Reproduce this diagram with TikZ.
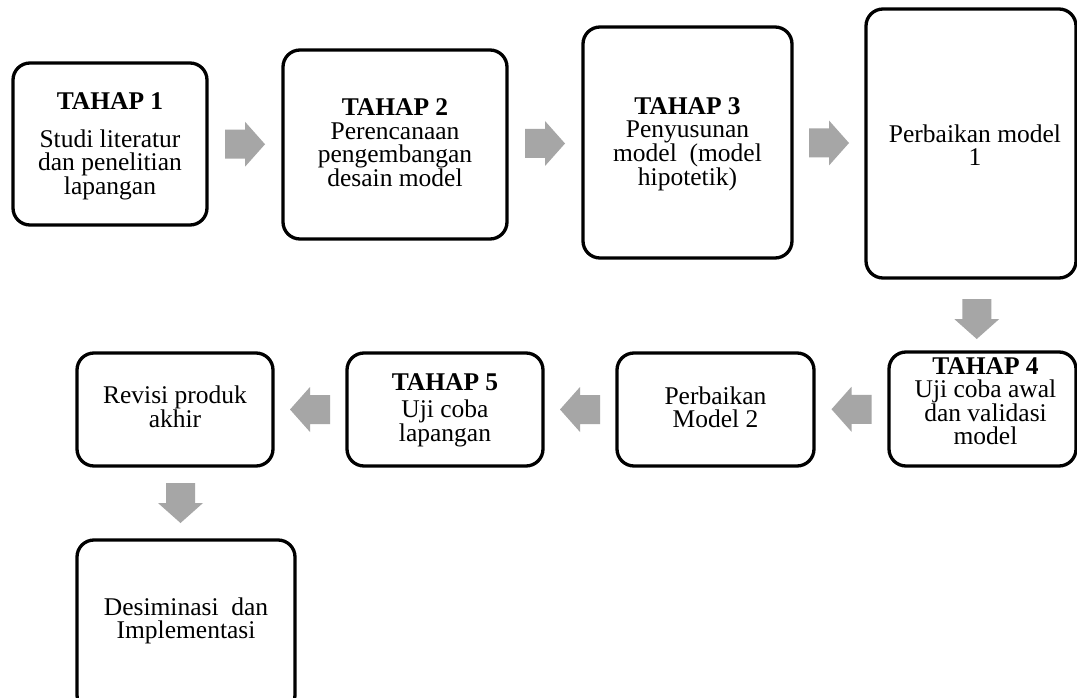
\documentclass[tikz,border=0pt]{standalone}
\usepackage{fontspec}
\setmainfont{Liberation Serif}
\usetikzlibrary{calc}
\definecolor{arrowgray}{RGB}{166,166,166}
\tikzset{
  stepbox/.style={draw=black, line width=3.3pt, rounded corners=17pt, fill=white,
    inner sep=0pt, outer sep=0pt},
  steptext/.style={align=center, inner sep=0pt, font=\fontsize{25.5}{23}\selectfont},
  blockarrow/.pic={
    \fill[arrowgray] (-20,-14.5) -- (0,-14.5) -- (0,-22.5) -- (20,0)
      -- (0,22.5) -- (0,14.5) -- (-20,14.5) -- cycle;
  }
}
\begin{document}
\begin{tikzpicture}[x=1pt, y=-1pt]
  \useasboundingbox (0,0) rectangle (1077,698);
  \fill[white] (0,0) rectangle (1077,698);
  \clip (0,0) rectangle (1077,698);

  % upper row
  \node[stepbox, minimum width=194pt, minimum height=162pt] (b1) at (110,144) {};
  \node[stepbox, minimum width=224pt, minimum height=189pt] (b2) at (395,144.5) {};
  \node[stepbox, minimum width=209pt, minimum height=231pt] (b3) at (687.5,142.5) {};
  \node[stepbox, minimum width=210pt, minimum height=269pt] (b4) at (971,143.5) {};

  % lower row
  \node[stepbox, minimum width=187pt, minimum height=114pt] (b5) at (982.5,409) {};
  \node[stepbox, minimum width=197pt, minimum height=113pt] (b6) at (715.5,409.5) {};
  \node[stepbox, minimum width=196pt, minimum height=113pt] (b7) at (445,409.5) {};
  \node[stepbox, minimum width=196pt, minimum height=113pt] (b8) at (175,409.5) {};
  \node[stepbox, minimum width=218pt, minimum height=172pt] (b9) at (186,626) {};

  % texts
  \node[steptext, yshift=-2pt] (t1) at (b1)
    {\textbf{TAHAP 1}\\[15pt]Studi literatur\\dan penelitian\\lapangan};
  \node[steptext, yshift=1.5pt] (t2) at (b2)
    {\textbf{TAHAP 2}\\[1pt]Perencanaan\\pengembangan\\desain model};
  \node[steptext, yshift=-2pt] (t3) at (b3)
    {\textbf{TAHAP 3}\\Penyusunan\\model\ \ (model\\hipotetik)};
  \node[steptext, xshift=4pt, yshift=-1.5pt] (t4) at (b4)
    {Perbaikan model\\1};
  \node[steptext, xshift=3pt, yshift=8pt] (t5) at (b5)
    {\textbf{TAHAP 4}\\Uji coba awal\\dan validasi\\model};
  \node[steptext, yshift=2pt] (t6) at (b6)
    {Perbaikan\\Model 2};
  \node[steptext, yshift=-1pt] (t7) at (b7)
    {\textbf{TAHAP 5}\\[4pt]Uji coba\\lapangan};
  \node[steptext, yshift=2.5pt] (t8) at (b8)
    {Revisi produk\\akhir};
  \node[steptext, yshift=5pt] (t9) at (b9)
    {Desiminasi\ \ dan\\Implementasi};

  % block arrows between the stages
  \pic at ($(b1.east)!0.5!(b2.west)$) {blockarrow};
  \pic at ($(b2.east)!0.5!(b3.west)$) {blockarrow};
  \pic at ($(b3.east)!0.5!(b4.west)$) {blockarrow};
  \pic[rotate=-90, xshift=4pt] at ($(b4.south)!0.5!(b5.north)$) {blockarrow};
  \pic[rotate=180] at ($(b5.west)!0.5!(b6.east)$) {blockarrow};
  \pic[rotate=180] at ($(b6.west)!0.5!(b7.east)$) {blockarrow};
  \pic[rotate=180] at ($(b7.west)!0.5!(b8.east)$) {blockarrow};
  \pic[rotate=-90] at ($(b8.south)!0.5!(b9.north)$) {blockarrow};
\end{tikzpicture}
\end{document}
